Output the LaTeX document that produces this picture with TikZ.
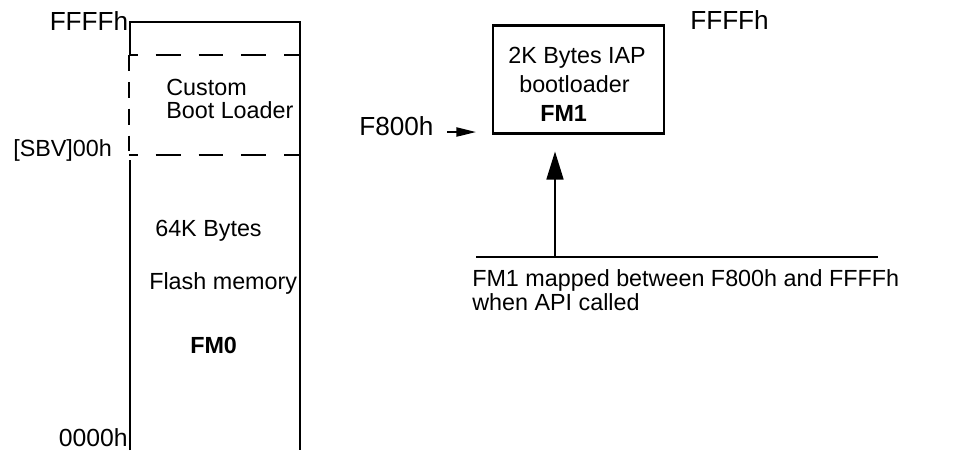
\documentclass[tikz,border=0pt]{standalone}
\usepackage{fontspec}
\setmainfont{Liberation Sans}
\usetikzlibrary{arrows.meta,positioning}

\tikzset{
  txt/.style={inner sep=0pt,anchor=base west,font=\fontsize{16.6}{19}\selectfont},
  addr/.style={inner sep=0pt,font=\fontsize{18.6}{22}\selectfont},
  wall/.style={line width=1.5pt},
  dashh/.style={line width=1.5pt,dash pattern=on 17.7pt off 12.8pt,dash phase=11.5pt},
  dashv/.style={line width=1.5pt,dash pattern=on 11.3pt off 7.8pt},
}

\begin{document}
\begin{tikzpicture}[x=0.025cm,y=-0.025cm]
    \useasboundingbox (0,0) rectangle (974,450);

    % memory column FM0
    \coordinate (colTL) at (130,22);
    \coordinate (colTR) at (300,22);
    \coordinate (colBL) at (130,450);
    \coordinate (colBR) at (300,450);
    \coordinate (cblTL) at (129,55);
    \coordinate (cblTR) at (300,55);
    \coordinate (cblBL) at (129,155);
    \coordinate (cblBR) at (300,155);

    \draw[wall] (colTL |- cblTL) -- (colTL) -- (colTR) -- (colBR);
    \draw[wall] (colBL) -- (130,160);
    \draw[dashh] (cblTL) -- (cblTR);
    \draw[dashh] (cblBL) -- (cblBR);
    \draw[dashv] (cblTL) -- (cblBL);

    \node[addr,anchor=base east] (ffffL) at (128.5,30)   {FFFFh};
    \node[txt]                   (sbv)   at (13,156.5)   {[SBV]00h};
    \node[inner sep=0pt,anchor=base east,font=\fontsize{17.6}{20}\selectfont]
                                 (zero)  at (128,446.5)  {0000h};
    \node[txt]                   (cust)  at (166,95)     {Custom};
    \node[txt]                   (bootl) at (166,118.5)  {Boot Loader};
    \node[txt]                   (k64)   at (155,236)    {64K Bytes};
    \node[txt]                   (flash) at (149,289.5)  {Flash memory};
    \node[txt,font=\fontsize{16.6}{19}\selectfont\bfseries]
                                 (fm0)   at (190,353.5)  {FM0};

    % FM1 block
    \node[draw,wall,minimum width=4.275cm,minimum height=2.7cm,inner sep=0pt]
                                 (iap)   at (578.5,79.5) {};
    \node[txt]                   (iap1)  at (508,63.5)   {2K Bytes IAP};
    \node[txt]                   (iap2)  at (519,92)     {bootloader};
    \node[txt,font=\fontsize{16.6}{19}\selectfont\bfseries]
                                 (fm1)   at (540,121)    {FM1};
    \node[addr,anchor=base west] (ffffR) at (690,29.3)   {FFFFh};
    \node[addr,anchor=base west] (f800)  at (359,135)    {F800h};

    \coordinate (f800a) at (447,132);
    \draw[line width=1.3pt,-{Triangle[length=14pt,width=6.5pt]},shorten >=11.3pt]
        (f800a) -- (f800a -| iap.west);

    % mapping note
    \coordinate (mapL) at (476,257);
    \coordinate (mapR) at (878,257);
    \coordinate (mapA) at (555,257);
    \draw[wall] (mapL) -- (mapR);
    \draw[wall,-{Triangle[length=20pt,width=12pt]},shorten >=12pt]
        (mapA) -- (mapA |- iap.south);
    \node[txt]                   (map1)  at (472,286.7)  {FM1 mapped between F800h and FFFFh};
    \node[txt]                   (map2)  at (472,310)    {when API called};
\end{tikzpicture}
\end{document}
